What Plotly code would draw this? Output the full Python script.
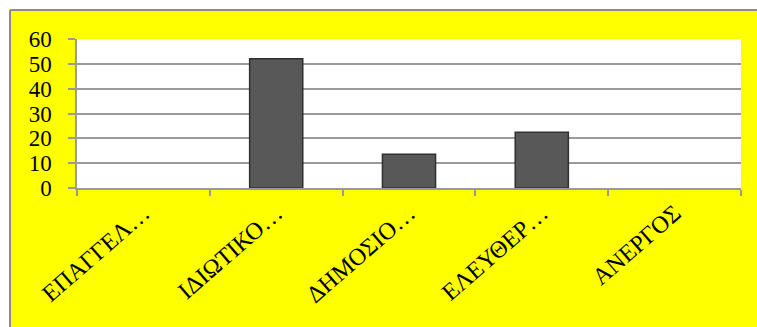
import plotly.graph_objects as go

categories = ["ΕΠΑΓΓΕΛ…", "ΙΔΙΩΤΙΚΟ…", "ΔΗΜΟΣΙΟ…", "ΕΛΕΥΘΕΡ…", "ΑΝΕΡΓΟΣ"]
values = [0, 52, 13.6, 22.4, 0]
y_ticks = [0, 10, 20, 30, 40, 50, 60]

W, H = 757, 327
L, T = 77, 39
R = W - 741
B = H - 188
pw, ph = W - L - R, H - T - B

def px(x):
    return (x - L) / pw

def py(y):
    return (H - B - y) / ph

SERIF = "'Liberation Serif', 'Times New Roman', Tinos, 'DejaVu Serif', serif"

fig = go.Figure(go.Bar(
    x=categories, y=values, width=0.4,
    marker=dict(color="#585858",
                line=dict(color="#303030", width=[1.5 if v > 0 else 0 for v in values])),
))

grid = "#9a9a9a"
fig.update_layout(
    width=W, height=H,
    margin=dict(l=L, r=R, t=T, b=B, autoexpand=False),
    paper_bgcolor="#ffff00",
    plot_bgcolor="#ffffff",
    showlegend=False,
    font=dict(family=SERIF, color="#000000"),
    shapes=[
        dict(type="rect", xref="paper", yref="paper", x0=px(-5), x1=px(W + 5), y0=py(-5), y1=py(10),
             fillcolor="#ffffff", line=dict(width=0), layer="above"),
        dict(type="rect", xref="paper", yref="paper", x0=px(-5), x1=px(10), y0=py(H + 5), y1=py(-5),
             fillcolor="#ffffff", line=dict(width=0), layer="above"),
        dict(type="line", xref="paper", yref="paper", x0=px(10), x1=px(W + 5), y0=py(10), y1=py(10),
             line=dict(color="#8c8c8c", width=2)),
        dict(type="line", xref="paper", yref="paper", x0=px(10), x1=px(10), y0=py(10), y1=py(H + 5),
             line=dict(color="#8c8c8c", width=2)),
    ],
)
fig.update_yaxes(
    range=[0, 60], tickvals=y_ticks, showgrid=True, gridcolor=grid, gridwidth=1.5,
    showline=True, linecolor=grid, linewidth=1.5, ticks="outside", ticklen=7,
    tickcolor=grid, tickwidth=1.5, tickfont=dict(size=23, family=SERIF),
    zeroline=False, ticklabelstandoff=12,
)
fig.update_xaxes(
    showline=True, linecolor=grid, linewidth=1.5, ticks="outside", ticklen=6,
    tickson="boundaries", tickcolor=grid, tickwidth=1.5, tickangle=-41,
    tickfont=dict(size=24, family=SERIF), showgrid=False,
)

fig.write_html(
    "out.html",
    config={"displayModeBar": False},
    post_script="document.body.style.margin='0';document.body.style.overflow='hidden';",
)
